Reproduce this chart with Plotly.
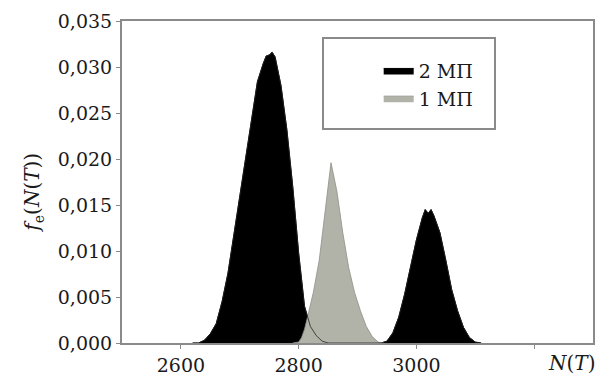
import plotly.graph_objects as go

# --- data ---
x_2mp = [2620, 2630, 2640, 2650, 2660, 2670, 2680, 2690, 2700, 2710, 2720, 2730,
         2740, 2745, 2750, 2755, 2760, 2770, 2780, 2790, 2800, 2810, 2820, 2830,
         2840, 2850, 2940, 2950, 2960, 2970, 2980, 2990, 3000, 3010, 3015, 3020,
         3025, 3030, 3040, 3050, 3060, 3070, 3080, 3090, 3100, 3110]
y_2mp = [0.0, 0.0, 0.0003, 0.0010, 0.0021, 0.0045, 0.0076, 0.0118, 0.0163, 0.0205,
         0.0247, 0.0284, 0.0304, 0.0312, 0.0313, 0.0316, 0.0311, 0.0280, 0.0232,
         0.0170, 0.0098, 0.0040, 0.0018, 0.0008, 0.0002, 0.0, 0.0, 0.0002, 0.0011,
         0.0028, 0.0053, 0.0082, 0.0112, 0.0136, 0.0145, 0.0141, 0.0145, 0.0138,
         0.0120, 0.0090, 0.0058, 0.0035, 0.0017, 0.0006, 0.0001, 0.0]

x_1mp = [2790, 2800, 2805, 2810, 2815, 2825, 2835, 2845, 2855, 2865, 2875, 2885,
         2895, 2905, 2915, 2925, 2935, 2945]
y_1mp = [0.0, 0.0001, 0.0006, 0.0015, 0.0028, 0.0055, 0.0090, 0.0140, 0.0196,
         0.0165, 0.0120, 0.0082, 0.0055, 0.0035, 0.0018, 0.0007, 0.0001, 0.0]

y_ticks = [0.0, 0.005, 0.010, 0.015, 0.020, 0.025, 0.030, 0.035]
x_ticks = [2600, 2800, 3000]
x_ticktext = ["2600", "2800", "3000"]
x_extra_tick = [3200]

FONT = "DejaVu Serif"
FS = 19
AXIS_GRAY = "#8a8a8a"
TXT = "#1a1a1a"

fig = go.Figure()
fig.add_trace(go.Scatter(x=x_2mp, y=y_2mp, mode="lines", fill="tozeroy",
                         fillcolor="#000000", line=dict(color="#000000", width=1),
                         name="2 МП"))
fig.add_trace(go.Scatter(x=x_1mp, y=y_1mp, mode="lines", fill="tozeroy",
                         fillcolor="#b2b3a8", line=dict(color="#8e8f86", width=0.8),
                         name="1 МП"))
# thin black outline of the 2 МП curve drawn over the grey area
fig.add_trace(go.Scatter(x=x_2mp, y=y_2mp, mode="lines",
                         line=dict(color="#222222", width=0.8),
                         showlegend=False, hoverinfo="skip"))

fig.update_layout(
    width=595, height=376,
    margin=dict(l=122, r=2, t=21, b=33),
    paper_bgcolor="white", plot_bgcolor="white",
    separators=", ",
    font=dict(family=FONT, size=FS, color=TXT),
    showlegend=True,
    legend=dict(x=0.545, y=0.905, xanchor="left", yanchor="top",
                bgcolor="rgba(0,0,0,0)", borderwidth=0,
                font=dict(family=FONT, size=FS, color=TXT),
                tracegroupgap=0),
    xaxis=dict(range=[2500, 3300], tickmode="array", tickvals=x_ticks,
               ticktext=x_ticktext, ticks="outside", ticklen=4,
               automargin=False,
               tickcolor=AXIS_GRAY, showline=True, linecolor=AXIS_GRAY,
               linewidth=2, mirror=True, showgrid=False, zeroline=False,
               tickfont=dict(family=FONT, size=FS, color=TXT),
               minor=dict(tickmode="array", tickvals=x_extra_tick,
                          ticks="outside", ticklen=4, tickcolor=AXIS_GRAY,
                          showgrid=False)),
    yaxis=dict(range=[0, 0.035], tickmode="array", tickvals=y_ticks,
               tickformat=".3f", ticks="outside", ticklen=4, automargin=False,
               tickcolor=AXIS_GRAY, showline=True, linecolor=AXIS_GRAY,
               linewidth=2, mirror=True, showgrid=False, zeroline=False,
               tickfont=dict(family=FONT, size=FS, color=TXT)),
    shapes=[dict(type="rect", xref="paper", yref="paper",
                 x0=(323 - 122) / 471, x1=(495 - 122) / 471,
                 y0=(343 - 129) / 322, y1=(343 - 38) / 322,
                 line=dict(color=AXIS_GRAY, width=2), fillcolor="rgba(0,0,0,0)")],
    annotations=[
        dict(text="<i>f</i><sub>e</sub>(<i>N</i>(<i>T</i>))", xref="paper",
             yref="paper", x=0, y=0.467, xanchor="center", yanchor="middle",
             xshift=-89, textangle=-90, showarrow=False,
             font=dict(family=FONT, size=20, color=TXT)),
        dict(text="<i>N</i>(<i>T</i>)", xref="paper", yref="paper",
             x=(571 - 122) / 471, y=0, xanchor="center", yanchor="top",
             yshift=-6, showarrow=False, font=dict(family=FONT, size=20, color=TXT)),
    ],
)

fig.write_html("out.html")
